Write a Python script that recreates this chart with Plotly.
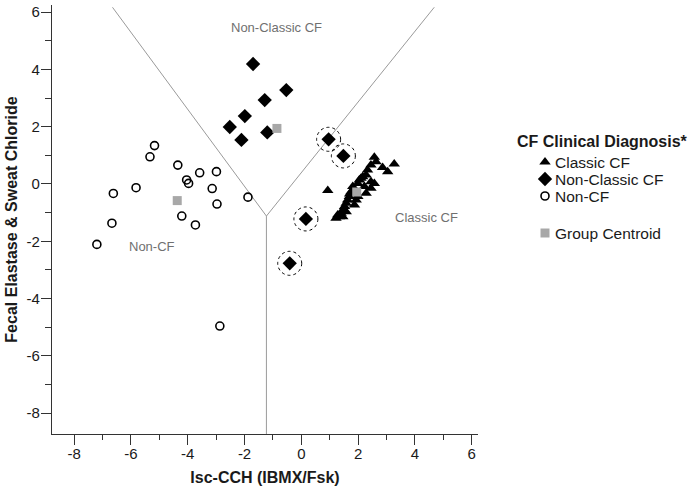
import plotly.graph_objects as go

# ---- data ----
classic_x = [2.57, 2.63, 2.86, 3.04, 3.27, 2.45, 2.33, 2.28, 2.45, 2.57, 2.45, 2.16, 2.04, 1.99,
             2.22, 2.28, 1.81, 1.75, 1.69, 1.63, 1.58, 1.52, 1.46, 1.40, 1.34, 1.22, 1.28, 1.93,
             1.99, 1.87, 1.58, 1.46, 0.93, 2.10, 1.70]
classic_y = [0.93, 0.78, 0.58, 0.43, 0.70, 0.66, 0.49, 0.31, 0.08, 0.02, -0.15, 0.25, 0.14, 0.02,
             -0.09, -0.32, -0.09, -0.27, -0.44, -0.56, -0.67, -0.79, -0.91, -1.02, -1.14, -1.20,
             -1.08, -0.56, -0.44, -0.73, -0.97, -1.14, -0.23, 0.20, -0.35]

nonclassic_x = [-1.70, -0.53, -1.29, -1.99, -2.52, -2.11, -1.20, 0.96, 1.48, 0.16, -0.41]
nonclassic_y = [4.19, 3.28, 2.93, 2.37, 1.99, 1.54, 1.80, 1.56, 0.98, -1.22, -2.77]

# highlighted (misclassified) non-classic cases
flag_x = [0.96, 1.48, 0.16, -0.41]
flag_y = [1.56, 0.98, -1.22, -2.77]

noncf_x = [-7.20, -6.67, -6.62, -5.82, -5.33, -5.17, -4.35, -4.04, -3.97, -3.58, -4.21, -3.73,
           -3.14, -2.99, -2.97, -1.88, -2.87]
noncf_y = [-2.11, -1.37, -0.33, -0.13, 0.95, 1.34, 0.66, 0.14, 0.02, 0.39, -1.12, -1.43,
           -0.16, 0.43, -0.70, -0.46, -4.96]

centroid_x = [1.95, -0.86, -4.37]
centroid_y = [-0.28, 1.94, -0.58]

# territorial map boundaries
boundary_x = [-6.65, -1.23, 4.68, None, -1.23, -1.23]
boundary_y = [6.17, -1.12, 6.17, None, -1.12, -8.73]

region_labels = ["Non-Classic CF", "Non-CF", "Classic CF"]
region_x = [-0.88, -5.27, 4.42]
region_y = [5.47, -2.19, -1.16]

x_tickvals = [-8, -6, -4, -2, 0, 2, 4, 6]
x_ticktext = ["-8", "-6", "-4", "-2", "0", "2", "4", "6"]
y_tickvals = [-8, -6, -4, -2, 0, 2, 4, 6]
y_ticktext = ["-8", "-6", "-4", "-2", "0", "2", "4", "6"]

legend_title = "CF Clinical Diagnosis*"
legend_names = ["Classic CF", "Non-Classic CF", "Non-CF", "Group Centroid"]

FONT = "Arial, Liberation Sans, sans-serif"

STY = {
    "Classic CF": dict(symbol="triangle-up", size=10, color="black"),
    "Non-Classic CF": dict(symbol="diamond", size=11, color="black"),
    "Non-CF": dict(symbol="circle-open", size=8, color="black", line=dict(width=1.6, color="black")),
    "Group Centroid": dict(symbol="square", size=9, color="#a8a8a8"),
}

fig = go.Figure()

fig.add_trace(go.Scatter(x=boundary_x, y=boundary_y, mode="lines",
                         line=dict(color="#9a9a9a", width=1), showlegend=False,
                         hoverinfo="skip"))

fig.add_trace(go.Scatter(x=classic_x, y=classic_y, mode="markers", name="Classic CF",
                         marker=STY["Classic CF"], showlegend=False))
fig.add_trace(go.Scatter(x=nonclassic_x, y=nonclassic_y, mode="markers", name="Non-Classic CF",
                         marker=STY["Non-Classic CF"], showlegend=False))
fig.add_trace(go.Scatter(x=noncf_x, y=noncf_y, mode="markers", name="Non-CF",
                         marker=STY["Non-CF"], showlegend=False))
fig.add_trace(go.Scatter(x=centroid_x, y=centroid_y, mode="markers", name="Group Centroid",
                         marker=STY["Group Centroid"], showlegend=False))

for fx, fy in zip(flag_x, flag_y):
    fig.add_shape(type="circle", xref="x", yref="y", xsizemode="pixel", ysizemode="pixel",
                  xanchor=fx, yanchor=fy, x0=-12, x1=12, y0=-12, y1=12,
                  line=dict(color="black", width=1, dash="dot"))

for t, ax_, ay_ in zip(region_labels, region_x, region_y):
    fig.add_annotation(x=ax_, y=ay_, text=t, showarrow=False,
                       font=dict(family=FONT, size=13, color="#707070"))

# ---- hand-built legend on a hidden pixel-scaled axis in the right margin ----
leg_rows = [162, 179, 196, 233]
for name, ry in zip(legend_names, leg_rows):
    fig.add_trace(go.Scatter(x=[545], y=[ry], xaxis="x2", yaxis="y2", mode="markers",
                             marker=STY[name], showlegend=False, hoverinfo="skip"))
    fig.add_annotation(x=553, y=ry, xref="x2", yref="y2", text=name, showarrow=False,
                       xanchor="left", yanchor="middle",
                       font=dict(family=FONT, size=15.5, color="#1a1a1a"))
fig.add_annotation(x=515, y=141, xref="x2", yref="y2", text="<b>" + legend_title + "</b>",
                   showarrow=False, xanchor="left", yanchor="middle",
                   font=dict(family=FONT, size=16, color="#1a1a1a"))

main_frac = 426 / 638

fig.update_layout(
    width=690, height=492,
    margin=dict(l=52, r=0, t=5, b=58),
    plot_bgcolor="white", paper_bgcolor="white",
    font=dict(family=FONT, color="#1a1a1a"),
    showlegend=False,
    xaxis=dict(domain=[0, main_frac], range=[-8.78, 6.22],
               tickmode="array", tickvals=x_tickvals, ticktext=x_ticktext,
               ticks="outside", ticklen=10, ticklabelstandoff=-4,
               tickcolor="#333", showline=True, linecolor="#333", linewidth=1.3,
               showgrid=False, zeroline=False, automargin=False,
               tickfont=dict(size=15),
               minor=dict(dtick=1, tick0=1, ticks="outside", ticklen=5, tickcolor="#333"),
               title=dict(text="<b>Isc-CCH (IBMX/Fsk)</b>", font=dict(size=16), standoff=10)),
    yaxis=dict(range=[-8.73, 6.25],
               tickmode="array", tickvals=y_tickvals, ticktext=y_ticktext,
               ticks="outside", ticklen=10, ticklabelstandoff=-2,
               tickcolor="#333", showline=True, linecolor="#333", linewidth=1.3,
               showgrid=False, zeroline=False, automargin=False,
               tickfont=dict(size=15),
               minor=dict(dtick=1, tick0=1, ticks="outside", ticklen=6, tickcolor="#333"),
               title=dict(text="<b>Fecal Elastase & Sweat Chloride</b>", font=dict(size=16),
                          standoff=4)),
    xaxis2=dict(domain=[main_frac, 1], range=[478, 690], visible=False, fixedrange=True),
    yaxis2=dict(domain=[0, 1], range=[434, 5], visible=False, fixedrange=True,
                anchor="x2"),
)

fig.write_html("out.html", config={"displayModeBar": False},
               post_script="document.body.style.margin='0px';")
